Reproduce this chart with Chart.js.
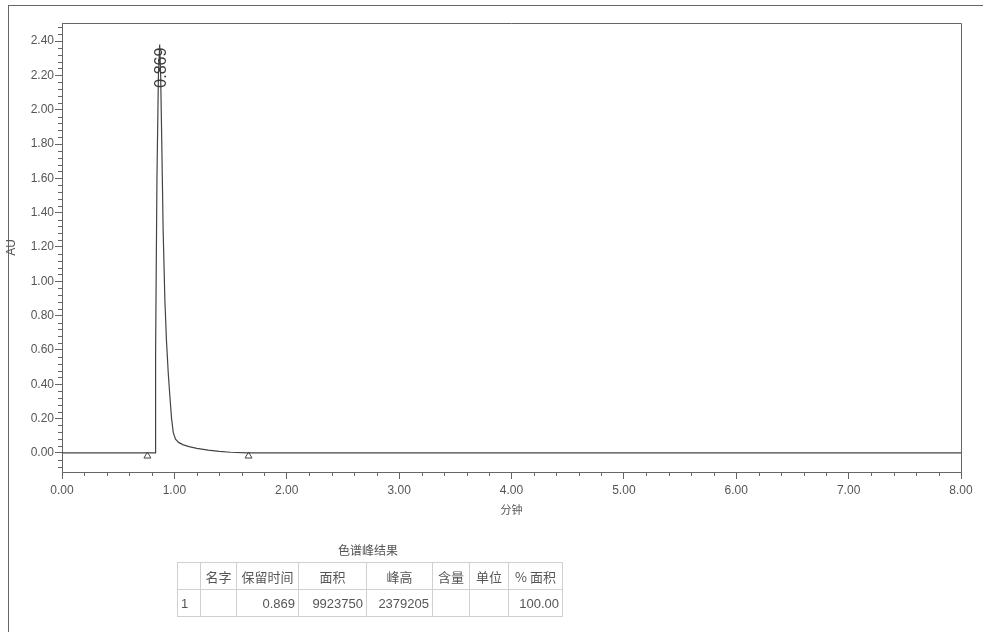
<!DOCTYPE html>
<html>
<head>
<meta charset="utf-8">
<script src="https://cdn.jsdelivr.net/npm/chart.js@4.4.1/dist/chart.umd.min.js"></script>
<style>
  html, body { margin: 0; padding: 0; background: #fff; }
  body { width: 983px; height: 632px; position: relative; overflow: hidden;
         font-family: "Liberation Sans", "Noto Sans CJK SC", sans-serif; }
  #frame { position: absolute; left: 8px; top: 5px; width: 990px; height: 640px;
           border: 1px solid #666; box-sizing: border-box; }
  #chart { position: absolute; left: 0; top: 0; }
  #tableTitle { position: absolute; left: 300px; width: 136px; top: 541px; text-align: center;
                font-size: 12px; color: #555; font-family: "Noto Sans CJK SC", sans-serif; }
  #peakTable { position: absolute; left: 177px; top: 562px; border-collapse: collapse;
               font-size: 13px; color: #555; table-layout: fixed; }
  #peakTable td { border: 1px solid #d0d0d0; padding: 0 3px; height: 26px; white-space: nowrap;
                  overflow: hidden; }
  #peakTable tr.head td { text-align: center; font-family: "Noto Sans CJK SC", sans-serif; }
  #peakTable td.num { text-align: right; }
</style>
</head>
<body>
<div id="frame"></div>
<canvas id="chart" width="983" height="632"></canvas>
<div id="tableTitle">色谱峰结果</div>
<table id="peakTable">
  <colgroup>
    <col style="width:23px"><col style="width:36px"><col style="width:62px"><col style="width:68px">
    <col style="width:66px"><col style="width:37px"><col style="width:39px"><col style="width:54px">
  </colgroup>
  <tr class="head"><td></td><td>名字</td><td>保留时间</td><td>面积</td><td>峰高</td><td>含量</td><td>单位</td><td>% 面积</td></tr>
  <tr><td>1</td><td></td><td class="num">0.869</td><td class="num">9923750</td><td class="num">2379205</td><td></td><td></td><td class="num">100.00</td></tr>
</table>
<script>
// chromatogram trace (minutes vs AU)
const times = [0, 0.4, 0.76, 0.828, 0.833, 0.845, 0.858, 0.869, 0.878, 0.888, 0.90, 0.915, 0.93,
  0.945, 0.96, 0.975, 0.99, 1.01, 1.04, 1.08, 1.13, 1.2, 1.3, 1.4, 1.5, 1.65, 2.0, 3.0, 4.0, 5.0, 6.0, 7.0, 8.0];
const signal = [0, 0, 0, 0, 0.6, 1.6, 2.2, 2.379, 2.2, 1.8, 1.3, 0.9, 0.65,
  0.47, 0.33, 0.2, 0.12, 0.08, 0.06, 0.047, 0.037, 0.027, 0.016, 0.009, 0.004, 0.001, 0, 0, 0.001, 0, 0, 0, 0];

// peak start / end markers
const markerTimes = [0.76, 1.66];
const markerValues = [-0.018, -0.018];

const peakTime = 0.869;
const peakHeight = 2.379;
const peakLabel = '0.869';

const xTicks = [0, 1, 2, 3, 4, 5, 6, 7, 8];
const yTicks = [0, 0.2, 0.4, 0.6, 0.8, 1.0, 1.2, 1.4, 1.6, 1.8, 2.0, 2.2, 2.4];

const tickFont = { family: 'Liberation Sans', size: 12 };
const axisColor = '#666';
const labelColor = '#555';

// minor ticks, plot box and peak label
const extras = {
  id: 'extras',
  afterDraw(chart) {
    const ctx = chart.ctx;
    const a = chart.chartArea;
    const xs = chart.scales.x, ys = chart.scales.y;
    ctx.save();
    ctx.strokeStyle = axisColor;
    ctx.lineWidth = 1;
    ctx.beginPath();
    ctx.moveTo(a.left, a.top + 0.5);
    ctx.lineTo(a.right + 0.5, a.top + 0.5);
    ctx.lineTo(a.right + 0.5, a.bottom);
    ctx.stroke();
    ctx.beginPath();
    for (let i = 0; i <= 40; i++) {
      if (i % 5 === 0) continue;
      const px = Math.round(xs.getPixelForValue(i * 0.2)) + 0.5;
      ctx.moveTo(px, a.bottom);
      ctx.lineTo(px, a.bottom + 4);
    }
    for (let i = -2; i <= 62; i++) {
      if (i % 5 === 0) continue;
      const py = Math.round(ys.getPixelForValue(i * 0.04)) + 0.5;
      ctx.moveTo(a.left, py);
      ctx.lineTo(a.left - 4, py);
    }
    ctx.stroke();
    ctx.translate(xs.getPixelForValue(peakTime) + 2, ys.getPixelForValue(peakHeight) + 3);
    ctx.rotate(-Math.PI / 2);
    ctx.font = '16px "Liberation Sans"';
    ctx.fillStyle = '#3a3a3a';
    ctx.textAlign = 'right';
    ctx.textBaseline = 'middle';
    ctx.fillText(peakLabel, 0, 0);
    ctx.restore();
  }
};

new Chart(document.getElementById('chart'), {
  type: 'scatter',
  data: {
    datasets: [
      {
        data: times.map((t, i) => ({ x: t, y: signal[i] })),
        showLine: true,
        borderColor: '#444',
        borderWidth: 1.2,
        pointRadius: 0,
        tension: 0
      },
      {
        data: markerTimes.map((t, i) => ({ x: t, y: markerValues[i] })),
        pointStyle: 'triangle',
        pointRadius: 4,
        borderColor: '#444',
        borderWidth: 1,
        backgroundColor: '#fff'
      }
    ]
  },
  options: {
    responsive: false,
    animation: false,
    layout: { padding: { left: 0, top: 23, right: 22, bottom: 115 } },
    plugins: { legend: { display: false }, tooltip: { enabled: false } },
    scales: {
      x: {
        type: 'linear',
        min: 0,
        max: 8,
        afterBuildTicks: s => { s.ticks = xTicks.map(v => ({ value: v })); },
        afterFit: s => { s.height = 45; },
        ticks: { callback: v => v.toFixed(2), font: tickFont, color: labelColor, padding: 4, maxRotation: 0 },
        grid: { drawOnChartArea: false, tickLength: 7, color: axisColor },
        border: { color: axisColor },
        title: { display: true, text: '分钟', color: labelColor,
                 font: { family: 'Noto Sans CJK SC', size: 11 }, padding: { top: 0, bottom: 1 } }
      },
      y: {
        min: -0.111,
        max: 2.505,
        afterBuildTicks: s => { s.ticks = yTicks.map(v => ({ value: v })); },
        afterFit: s => { s.width = 62; },
        ticks: { callback: v => v.toFixed(2), font: tickFont, color: labelColor, padding: 1 },
        grid: { drawOnChartArea: false, tickLength: 7, color: axisColor },
        border: { color: axisColor },
        title: { display: true, text: 'AU', color: labelColor,
                 font: { family: 'Liberation Sans', size: 12 }, padding: { top: 4, bottom: 0 } }
      }
    }
  },
  plugins: [extras]
});
</script>
</body>
</html>
